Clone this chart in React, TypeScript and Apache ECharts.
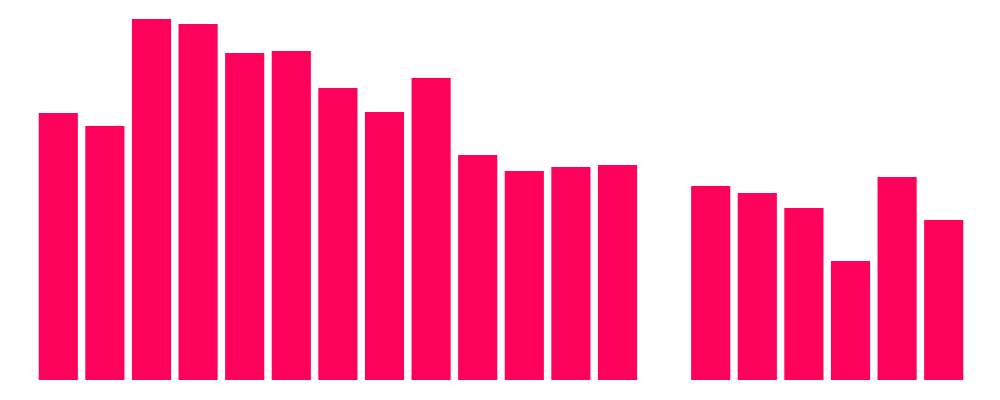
import React, { useEffect, useRef } from "react";
import * as echarts from "echarts";

const categories = ["1","2","3","4","5","6","7","8","9","10","11","12","13","14","15","16","17","18","19","20"];
const values: (number | null)[] = [267, 254, 361, 356, 327, 329, 292, 268, 302, 225, 209, 213, 215, null, 194, 187, 172, 119, 203, 160];
const yMax = 361;
const barColor = "#FF005A";

export default function App() {
  const ref = useRef<HTMLDivElement>(null);
  useEffect(() => {
    if (!ref.current) return;
    const chart = echarts.init(ref.current, undefined, { renderer: "svg" });
    chart.setOption({
      animation: false,
      grid: { left: 35, right: 33, top: 19, bottom: 20 },
      xAxis: {
        type: "category",
        data: categories,
        show: false,
      },
      yAxis: {
        type: "value",
        min: 0,
        max: yMax,
        show: false,
        splitLine: { show: false },
      },
      series: [
        {
          type: "bar",
          data: values,
          barCategoryGap: "16%",
          itemStyle: { color: barColor },
        },
      ],
    });
    return () => chart.dispose();
  }, []);
  return (
    <div
      ref={ref}
      style={{ position: "fixed", left: 0, top: 0, width: 1000, height: 400, background: "#fff" }}
    />
  );
}
